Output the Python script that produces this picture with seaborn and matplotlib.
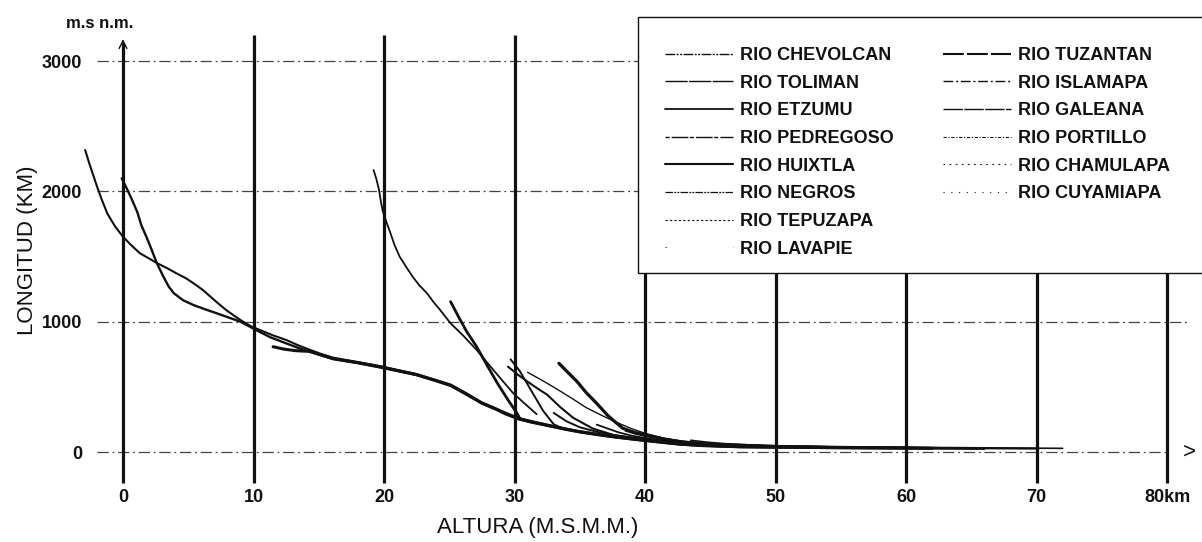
import matplotlib
matplotlib.use("Agg")
import matplotlib.pyplot as plt
import seaborn as sns
import pandas as pd
from matplotlib.lines import Line2D
from matplotlib.patches import Rectangle

sns.set_theme(style="white")
plt.rcParams["font.family"] = ["Liberation Sans", "DejaVu Sans"]

# ---- longitudinal river profiles: distance (km) and elevation (m.s.n.m.) ----
chevolcan_km = [-2.9, -2.6, -2.3, -2.0, -1.6, -1.2, -0.6, 0.0, 0.6, 1.3, 2.0, 2.6, 3.4, 4.1, 4.8,
                5.4, 6.1, 6.7, 7.3, 7.9, 8.6, 9.2, 9.8, 10.5, 11.5, 12.5, 13.4, 14.3, 15.2,
                16.1, 18.0, 19.9, 21.0, 22.5, 24.0, 25.1, 26.3, 27.5, 28.5, 29.3, 30.3, 31.3, 32.5,
                34.0, 35.0, 36.3, 37.6, 38.9, 40.1, 41.5, 42.7, 44.0, 45.5, 47.3, 50.0, 55.0, 60.0,
                65.0, 70.0]
chevolcan_m = [2318, 2220, 2130, 2040, 1930, 1830, 1730, 1652, 1590, 1525, 1485, 1450, 1410, 1371, 1335,
               1295, 1245, 1192, 1140, 1090, 1040, 1000, 965, 936, 895, 860, 820, 785, 752,
               724, 690, 655, 630, 598, 552, 518, 452, 380, 338, 298, 262, 236, 210,
               178, 160, 140, 122, 106, 92, 77, 64, 54, 48, 43, 39, 35, 32,
               29, 26]

toliman_km = [-0.1, 0.3, 0.7, 1.1, 1.4, 1.8, 2.1, 2.6, 3.1, 3.5, 3.9, 4.6, 5.4, 6.3, 7.2, 8.1,
              9.0, 10.2, 11.3, 12.5, 13.4, 14.3,
              16.1, 18.0, 19.9, 21.0, 22.5, 24.0, 25.1, 26.3, 27.5, 28.5, 29.3, 30.3, 31.3, 32.5,
              34.0, 35.0, 36.3, 37.6, 38.9, 40.1, 41.5, 42.7, 44.0, 45.5, 47.3, 50.0, 55.0, 60.0,
              66.0]
toliman_m = [2100, 2020, 1934, 1840, 1742, 1650, 1576, 1448, 1345, 1270, 1218, 1165, 1128, 1095, 1064, 1032,
             1000, 936, 880, 834, 800, 770,
             714, 682, 645, 622, 590, 545, 508, 444, 372, 330, 290, 252, 226, 202,
             170, 152, 132, 114, 98, 85, 70, 58, 48, 42, 38, 34, 31, 28,
             25]

etzumu_km = [11.5, 12.3, 13.2, 14.3, 16.1, 18.0, 19.9, 22.5, 25.1, 27.5, 30.3, 32.5, 35.0, 37.6,
             40.1, 42.7, 47.3, 55.0, 62.0]
etzumu_m = [808, 790, 778, 772, 716, 686, 650, 594, 512, 376, 256, 205, 155, 117,
            88, 60, 40, 33, 28]

pedregoso_km = [19.2, 19.4, 19.6, 19.75, 19.9, 20.2, 20.5, 20.8, 21.2, 21.7, 22.2, 22.7, 23.3, 23.8,
                24.3, 25.1, 26.1, 27.1, 28.5, 29.9, 30.8, 31.7]
pedregoso_m = [2164, 2100, 2020, 1930, 1850, 1760, 1678, 1590, 1499, 1420, 1345, 1280, 1218, 1150,
               1090, 988, 890, 783, 615, 451, 370, 290]

huixtla_km = [25.1, 25.7, 26.3, 27.1, 27.9, 28.7, 29.5, 30.2, 30.4]
huixtla_m = [1154, 1040, 930, 808, 665, 526, 400, 296, 258]

negros_km = [29.7, 30.4, 31.3, 32.2, 33.0, 33.6]
negros_m = [711, 622, 468, 315, 213, 185]

tepuzapa_km = [29.5, 30.3, 31.0, 31.8, 32.5, 33.5, 34.5, 36.0, 37.6, 40.1, 42.7, 47.0]
tepuzapa_m = [655, 590, 540, 485, 440, 345, 262, 180, 130, 95, 68, 46]

lavapie_km = [31.0, 32.2, 33.3, 34.5, 35.5, 36.8, 38.0, 39.0, 40.1, 41.5, 43.0, 46.0]
lavapie_m = [612, 545, 480, 405, 340, 275, 220, 178, 140, 105, 80, 55]

tuzantan_km = [33.4, 34.1, 34.8, 35.5, 36.3, 37.1, 37.6, 38.3, 39.2, 40.1, 41.3, 42.7, 45.0, 50.0]
tuzantan_m = [681, 610, 540, 455, 373, 285, 240, 182, 150, 131, 102, 79, 58, 42]

islamapa_km = [33.0, 34.0, 35.0, 36.3, 37.6, 38.9, 40.1, 42.7, 45.0, 50.0, 56.0, 64.0]
islamapa_m = [300, 235, 190, 155, 130, 112, 98, 70, 56, 44, 36, 30]

galeana_km = [36.3, 37.2, 38.0, 39.0, 40.1, 41.5, 43.0, 46.0, 50.0, 55.0, 60.0]
galeana_m = [210, 178, 150, 125, 106, 86, 70, 54, 45, 38, 33]

portillo_km = [38.5, 39.3, 40.1, 41.3, 42.7, 44.3, 46.0, 50.0, 54.0, 58.0]
portillo_m = [162, 138, 120, 98, 80, 66, 55, 45, 40, 37]

chamulapa_km = [41.0, 42.0, 43.0, 44.5, 46.0, 49.0, 52.0, 58.0, 66.0]
chamulapa_m = [110, 95, 80, 68, 58, 48, 42, 35, 30]

cuyamiapa_km = [43.5, 44.7, 46.0, 48.0, 50.0, 55.0, 60.0, 66.0, 72.0]
cuyamiapa_m = [90, 76, 65, 55, 48, 41, 36, 32, 28]

rivers = ["RIO CHEVOLCAN", "RIO TOLIMAN", "RIO ETZUMU", "RIO PEDREGOSO", "RIO HUIXTLA",
          "RIO NEGROS", "RIO TEPUZAPA", "RIO LAVAPIE", "RIO TUZANTAN", "RIO ISLAMAPA",
          "RIO GALEANA", "RIO PORTILLO", "RIO CHAMULAPA", "RIO CUYAMIAPA"]
profiles = [
    (chevolcan_km, chevolcan_m), (toliman_km, toliman_m), (etzumu_km, etzumu_m),
    (pedregoso_km, pedregoso_m), (huixtla_km, huixtla_m), (negros_km, negros_m),
    (tepuzapa_km, tepuzapa_m), (lavapie_km, lavapie_m), (tuzantan_km, tuzantan_m),
    (islamapa_km, islamapa_m), (galeana_km, galeana_m), (portillo_km, portillo_m),
    (chamulapa_km, chamulapa_m), (cuyamiapa_km, cuyamiapa_m),
]

x_ticks = [0, 10, 20, 30, 40, 50, 60, 70, 80]
x_tick_labels = ["0", "10", "20", "30", "40", "50", "60", "70", "80km"]
y_ticks = [0, 1000, 2000, 3000]
y_tick_labels = ["0", "1000", "2000", "3000"]

# line width of each profile and the dash pattern shown in the key
widths = [1.5, 1.7, 2.2, 1.3, 2.0, 1.4, 1.5, 1.0, 2.3, 1.4, 1.3, 1.2, 1.2, 1.2]
key_styles = [
    dict(lw=1.0, ls=(0, (7, 1, 1.5, 1, 1.5, 1))),
    dict(lw=1.0, ls=(0, (16, 1))),
    dict(lw=1.3, ls="-"),
    dict(lw=1.0, ls=(0, (3, 1.5, 12, 1))),
    dict(lw=1.5, ls="-"),
    dict(lw=0.9, ls=(0, (6, 1, 1.5, 1, 1.5, 1))),
    dict(lw=0.8, ls=(0, (2, 2))),
    dict(lw=0.8, ls=(0, (1, 60))),
    dict(lw=1.5, ls=(0, (10, 1.5))),
    dict(lw=1.0, ls=(0, (7, 2, 1.5, 2))),
    dict(lw=1.0, ls=(0, (14, 1))),
    dict(lw=0.8, ls=(0, (3, 1.5, 1, 1.5))),
    dict(lw=0.8, ls=(0, (1.5, 4))),
    dict(lw=0.8, ls=(0, (1, 6))),
]

ink = "#111111"

fig = plt.figure(figsize=(12.02, 5.42), dpi=100)
ax = fig.add_axes([0, 0, 1, 1])
ax.set_xlim(-9.425, 82.68)
ax.set_ylim(-690.7, 3469)
for s in ax.spines.values():
    s.set_visible(False)

# dash-dot horizontal reference lines
ax.hlines([1000, 2000, 3000], xmin=-2.0, xmax=81.6, colors="#444444", lw=0.9,
          linestyles=[(0, (9, 3, 1.5, 3))], zorder=1)
ax.hlines([0], xmin=-2.0, xmax=80.0, colors="#444444", lw=0.9,
          linestyles=[(0, (9, 3, 1.5, 3))], zorder=1)

# heavy vertical distance lines
ax.vlines(x_ticks[1:], ymin=-238, ymax=3200, colors=ink, lw=2.3, zorder=2)
ax.vlines([0], ymin=-238, ymax=3140, colors=ink, lw=2.3, zorder=2)
ax.annotate("", xy=(0, 3190), xytext=(0, 3000),
            arrowprops=dict(arrowstyle="->", lw=1.0, color=ink, mutation_scale=14), zorder=2)
ax.text(81.7, 0, ">", ha="center", va="center", fontsize=16, color=ink)

# profiles
for (km, m), w in zip(profiles, widths):
    df = pd.DataFrame({"km": km, "m": m})
    sns.lineplot(data=df, x="km", y="m", ax=ax, color=ink, lw=w, sort=False,
                 estimator=None, legend=False, zorder=3)

ax.set_xticks(x_ticks)
ax.set_xticklabels(x_tick_labels, fontsize=13, fontweight="bold", color=ink)
ax.set_yticks(y_ticks)
ax.set_yticklabels(y_tick_labels, fontsize=13, fontweight="bold", color=ink)
ax.tick_params(axis="x", length=0, pad=-38)
ax.tick_params(axis="y", length=0, pad=-59)

ax.set_xlabel("ALTURA (M.S.M.M.)", fontsize=16, color=ink)
ax.xaxis.label.set_va("center")
ax.xaxis.set_label_coords(538 / 1202, 1 - 527 / 542)
ax.set_ylabel("LONGITUD (KM)", fontsize=16, color=ink)
ax.yaxis.label.set_va("center")
ax.yaxis.set_label_coords(28 / 1202, 1 - 250 / 542)

fig.text(100 / 1202, 1 - 23 / 542, "m.s n.m.", ha="center", va="center",
         fontsize=12, fontweight="bold", color=ink)

# key panel
panel = Rectangle((638 / 1202, 1 - 273 / 542), (1220 - 638) / 1202, (273 - 17) / 542,
                  transform=fig.transFigure, facecolor="white", edgecolor=ink, lw=1.0,
                  zorder=5, clip_on=False)
ax.add_patch(panel)

handles = [Line2D([], [], color=ink, **st) for st in key_styles]
labels = list(rivers)
blank = Line2D([], [], color="none")
handles = handles[:8] + handles[8:] + [blank, blank]
labels = labels[:8] + labels[8:] + ["", ""]
leg = ax.legend(handles, labels, ncol=2, loc="upper left",
                bbox_to_anchor=(656 / 1202, 1 - 38 / 542), bbox_transform=fig.transFigure,
                frameon=False, borderpad=0, handlelength=3.78, handletextpad=0.4,
                columnspacing=2.7, labelspacing=0.59,
                prop=dict(size=13, weight="bold"))
leg.set_zorder(6)
for t in leg.get_texts():
    t.set_color(ink)

fig.savefig("out.png", dpi=100)
